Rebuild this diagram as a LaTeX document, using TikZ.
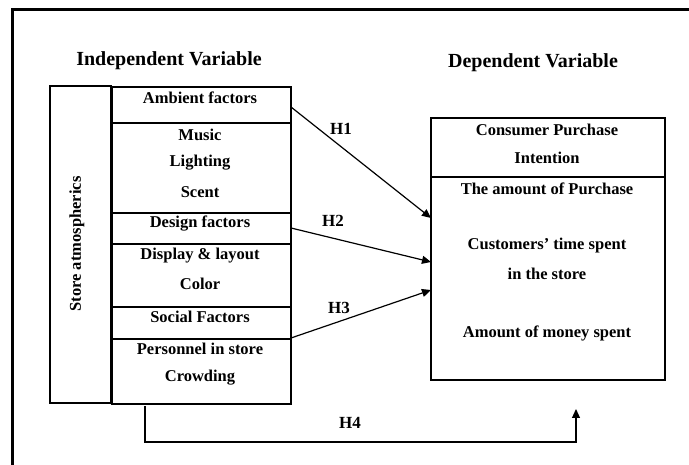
\documentclass[tikz,border=0pt]{standalone}
\usepackage{fontspec}
\setmainfont{Liberation Serif}
\usetikzlibrary{arrows.meta}
\begin{document}
\begin{tikzpicture}[x=1pt,y=-1pt,
  box/.style={draw,line width=1.8pt},
  txt/.style={font=\fontsize{16.5}{18}\selectfont\bfseries,inner sep=0pt},
  head/.style={font=\fontsize{20}{22}\selectfont\bfseries,inner sep=0pt},
  hlab/.style={font=\fontsize{17}{19}\selectfont\bfseries,inner sep=0pt},
  conn/.style={line width=1.2pt,-{Triangle[length=9pt,width=8pt]}}]
\useasboundingbox (0,0) rectangle (689,465);
\clip (0,0) rectangle (689,465);
% outer frame
\draw[line width=3pt] (700,10) -- (12,10) -- (12,480);
% headers
\node[head] (hi) at (169,61) {Independent Variable};
\node[head] (hd) at (533,63) {Dependent Variable};
% left block
\draw[box] (50,86) rectangle (111,403);
\node[box,inner sep=0pt,minimum width=179pt,minimum height=36pt,anchor=north west] (r1) at (111,86) {};
\node[box,inner sep=0pt,minimum width=179pt,minimum height=90pt,anchor=north west] (r2) at (111,122) {};
\node[box,inner sep=0pt,minimum width=179pt,minimum height=31pt,anchor=north west] (r3) at (111,212) {};
\node[box,inner sep=0pt,minimum width=179pt,minimum height=63pt,anchor=north west] (r4) at (111,243) {};
\node[box,inner sep=0pt,minimum width=179pt,minimum height=32pt,anchor=north west] (r5) at (111,306) {};
\node[box,inner sep=0pt,minimum width=179pt,minimum height=65pt,anchor=north west] (r6) at (111,338) {};
\node[txt,rotate=90] (sa) at (77,244) {Store atmospherics};
\node[txt] (t1) at (200,98) {Ambient factors};
\node[txt] (t2a) at (200,135) {Music};
\node[txt] (t2b) at (200,163) {Lighting};
\node[txt] (t2c) at (200,192) {Scent};
\node[txt] (t3) at (200,224) {Design factors};
\node[txt] (t4a) at (200,256) {Display \& layout};
\node[txt] (t4b) at (200,284) {Color};
\node[txt] (t5) at (200,317) {Social Factors};
\node[txt] (t6a) at (200,349) {Personnel in store};
\node[txt] (t6b) at (200,378) {Crowding};
% right block
\node[box,inner sep=0pt,minimum width=234pt,minimum height=59pt,anchor=north west] (d1) at (430,117) {};
\node[box,inner sep=0pt,minimum width=234pt,minimum height=203pt,anchor=north west] (d2) at (430,176) {};
\node[txt] (u1a) at (547,130) {Consumer Purchase};
\node[txt] (u1b) at (547,158) {Intention};
\node[txt] (u2) at (547,189) {The amount of Purchase};
\node[txt] (u3a) at (547,246) {Customers’ time spent};
\node[txt] (u3b) at (547,274) {in the store};
\node[txt] (u4) at (547,333) {Amount of money spent};
% arrow end points
\coordinate (s1) at (291,107);
\coordinate (e1) at (431,218);
\coordinate (s2) at (291,228);
\coordinate (e2) at (431,262);
\coordinate (s3) at (291,338);
\coordinate (e3) at (431,290);
\coordinate (s4) at (145,406);
\coordinate (e4) at (576,409);
\draw[conn] (s1) -- (e1);
\draw[conn] (s2) -- (e2);
\draw[conn] (s3) -- (e3);
\draw[conn] (s4) -- (145,442) -- (576,442) -- (e4);
\node[hlab] (h1) at (341,129) {H1};
\node[hlab] (h2) at (333,221) {H2};
\node[hlab] (h3) at (339,308) {H3};
\node[hlab] (h4) at (350,423) {H4};
\end{tikzpicture}
\end{document}
